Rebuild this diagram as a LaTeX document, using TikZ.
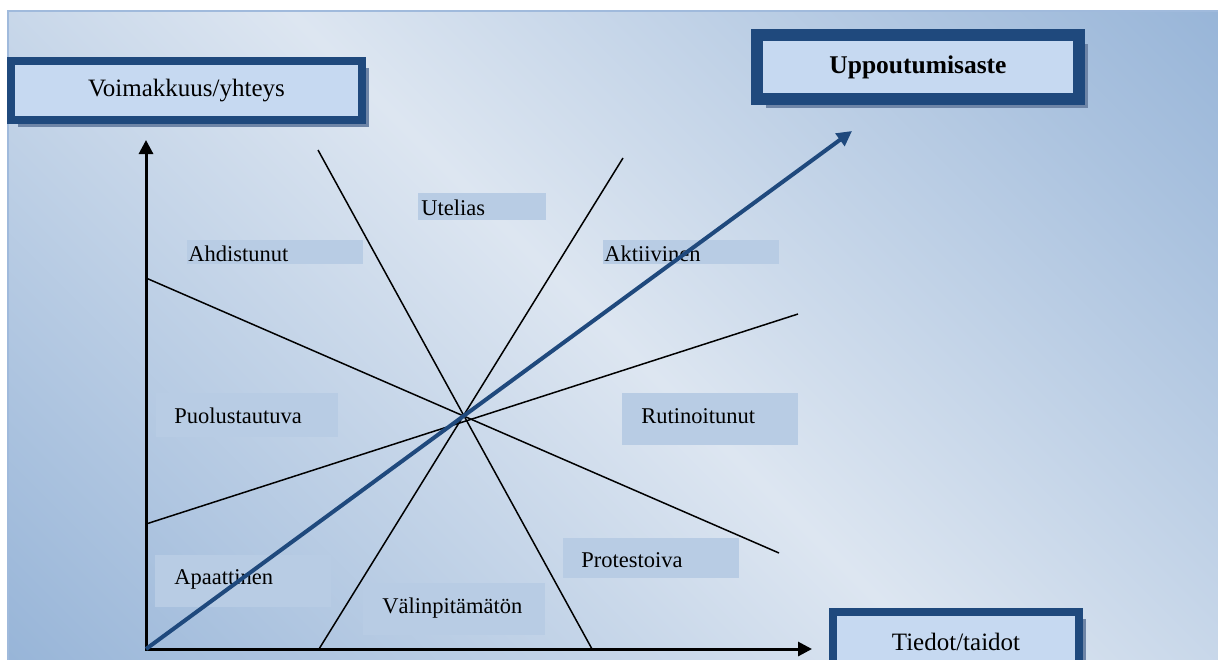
\documentclass[tikz,border=0pt]{standalone}
\usepackage{fontspec}
\setmainfont{Liberation Serif}
\usetikzlibrary{arrows.meta, shadows}

\definecolor{boxline}{RGB}{31,73,125}
\definecolor{boxfill}{RGB}{198,217,241}
\definecolor{boxshadow}{RGB}{110,133,167}
\definecolor{regionfill}{RGB}{184,204,228}
\definecolor{bgblue}{RGB}{146,177,214}
\definecolor{bglight}{RGB}{221,230,241}
\definecolor{bgedge}{RGB}{160,186,220}
\pgfdeclarehorizontalshading{bgshade}{100bp}{color(0bp)=(bgblue); color(12bp)=(bgblue); color(50bp)=(bglight); color(88bp)=(bgblue); color(100bp)=(bgblue)}

\begin{document}
\begin{tikzpicture}[
    x=0.5pt, y=-0.5pt,
    titlebox/.style={
        rectangle, draw=boxline, fill=boxfill, line width=#1, inner sep=0pt,
        general shadow={fill=boxshadow, shadow xshift=#1/2+1.5pt, shadow yshift=-#1/2-1.5pt},
        font=\fontsize{12.5}{15}\selectfont
    },
    titlebox/.default=4pt,
    region/.style={
        fill=regionfill, anchor=north west, inner ysep=0pt, align=left,
        font=\fontsize{11.25}{13}\selectfont
    },
    split/.style={line width=0.75pt},
    axis/.style={line width=1.5pt, {Triangle[length=7pt, width=7pt]}-{Triangle[length=7pt, width=7pt]}},
    trend/.style={draw=boxline, line width=2pt, -{Triangle[length=7.5pt, width=7.5pt]}}
]
\useasboundingbox (0,0) rectangle (1218,659);

% background
\shade[shading=bgshade, shading angle=45, draw=bgedge, line width=0.75pt] (8,11) rectangle (1230,670);

% end points
\coordinate (origin) at (146,649);
\coordinate (ytop) at (146,140);
\coordinate (xend) at (812,649);
\coordinate (tip) at (852,131);
\coordinate (l1a) at (318,150);
\coordinate (l1b) at (592,649);
\coordinate (l2a) at (623,158);
\coordinate (l2b) at (319,649);
\coordinate (l3a) at (146,278);
\coordinate (l3b) at (779,553);
\coordinate (l4a) at (146,524);
\coordinate (l4b) at (798,314);

% regions
\node[region, inner xsep=1.5pt, text width=61pt, text height=11pt, text depth=2.5pt] (utelias) at (418,193) {Utelias};
\node[region, inner xsep=0.5pt, text width=87pt, text height=10.5pt, text depth=1.5pt] (ahdistunut) at (187,240) {Ahdistunut};
\node[region, inner xsep=0.5pt, text width=87pt, text height=10.5pt, text depth=1.5pt] (aktiivinen) at (603,240) {Aktiivinen};
\node[region, inner xsep=9pt, text width=73pt, text height=15pt, text depth=7pt] (puolustautuva) at (156,393) {Puolustautuva};
\node[region, inner xsep=9.5pt, text width=69pt, text height=15pt, text depth=11pt] (rutinoitunut) at (622,393) {Rutinoitunut};
\node[region, inner xsep=9pt, text width=70pt, text height=14.5pt, text depth=5.5pt] (protestoiva) at (563,538) {Protestoiva};
\node[region, inner xsep=9.5pt, text width=69pt, text height=14.5pt, text depth=11.5pt] (apaattinen) at (155,555) {Apaattinen};
\node[region, inner xsep=9.5pt, text width=72pt, text height=15pt, text depth=11pt] (valinpitamaton) at (363,583) {Välinpitämätön};

% dividing lines
\draw[split] (l1a) -- (l1b);
\draw[split] (l2a) -- (l2b);
\draw[split] (l3a) -- (l3b);
\draw[split] (l4a) -- (l4b);

% axes
\draw[axis] (ytop) -- (origin) -- (xend);
\draw[trend] (origin) -- (tip);

% titles
\node[titlebox, minimum width=175.5pt, minimum height=29.5pt] (voima) at (186.5,90.5) {Voimakkuus/yhteys};
\node[titlebox=6pt, minimum width=161pt, minimum height=32pt, font=\fontsize{12.75}{15}\selectfont\bfseries] (uppoutuminen) at (918,67) {Uppoutumisaste};
\node[titlebox, minimum width=123pt, minimum height=30pt] (tiedot) at (956,642) {Tiedot/taidot};

\end{tikzpicture}
\end{document}
